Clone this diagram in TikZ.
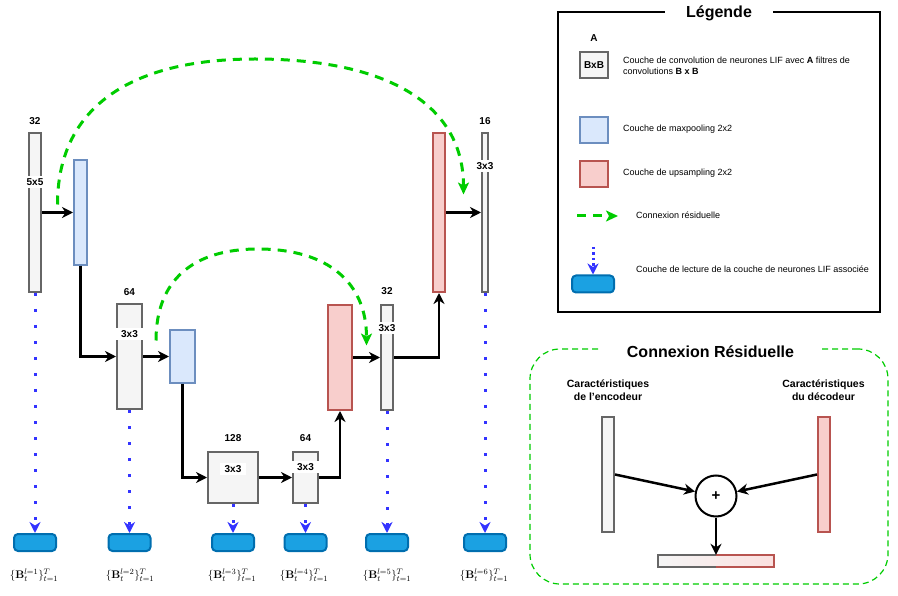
\documentclass[tikz,border=0pt]{standalone}
\usepackage[no-math]{fontspec}
\setmainfont{Liberation Sans}
\usetikzlibrary{arrows.meta,calc,shapes.geometric}
\definecolor{convfill}{HTML}{F5F5F5}
\definecolor{convdraw}{HTML}{666666}
\definecolor{poolfill}{HTML}{DAE8FC}
\definecolor{pooldraw}{HTML}{6C8EBF}
\definecolor{upfill}{HTML}{F8CECC}
\definecolor{uplight}{HTML}{FBE0DF}
\definecolor{updraw}{HTML}{B85450}
\definecolor{resgreen}{HTML}{00CC00}
\definecolor{dotblue}{HTML}{3333FF}
\definecolor{readfill}{HTML}{1BA1E2}
\definecolor{readdraw}{HTML}{006EAF}
\begin{document}
\begin{tikzpicture}[x=1pt,y=-1pt,
  conv/.style={rectangle, draw=convdraw, fill=convfill, line width=2pt, inner sep=0pt},
  pool/.style={rectangle, draw=pooldraw, fill=poolfill, line width=2pt, inner sep=0pt},
  upl/.style={rectangle, draw=updraw, fill=upfill, line width=2pt, inner sep=0pt},
  readout/.style={rectangle, rounded corners=4pt, draw=readdraw, fill=readfill, line width=2pt,
    minimum width=42pt, minimum height=17pt, inner sep=0pt},
  num/.style={font=\fontsize{10}{12}\selectfont\bfseries, inner sep=1pt},
  kern/.style={num, fill=white, inner xsep=5pt, inner ysep=2.5pt},
  arr/.style={line width=2.5pt, -{Stealth[length=11pt,width=11pt,inset=3.5pt]}},
  resarr/.style={resgreen, line width=3pt, dash pattern=on 9pt off 7pt,
    -{Stealth[length=12pt,width=11pt,inset=3pt]}},
  readarr/.style={dotblue, line width=3pt, dash pattern=on 3pt off 13pt,
    -{Stealth[length=11pt,width=11pt,inset=3.5pt]}},
  mathlbl/.style={font=\fontsize{11}{13}\selectfont, inner sep=0pt},
  legtxt/.style={font=\fontsize{9}{11}\selectfont, anchor=west, align=left, inner sep=0pt},
  bigttl/.style={font=\fontsize{16}{19}\selectfont\bfseries, fill=white, inner ysep=2pt},
  subttl/.style={font=\fontsize{10.5}{13}\selectfont\bfseries, align=center, inner sep=0pt}
]
\useasboundingbox (0,0) rectangle (898,596);

% ---------------- main network ----------------
\node[conv, minimum width=12pt, minimum height=159pt] (c1) at (35,212.5) {};
\node[pool, minimum width=13pt, minimum height=105pt] (p1) at (80.5,212.5) {};
\node[conv, minimum width=25pt, minimum height=105pt] (c2) at (129.5,356.5) {};
\node[pool, minimum width=25pt, minimum height=53pt] (p2) at (182.5,356.5) {};
\node[conv, minimum width=50pt, minimum height=51pt] (c3) at (233,477.5) {};
\node[conv, minimum width=25pt, minimum height=51pt] (c4) at (305.5,477.5) {};
\node[upl, minimum width=24pt, minimum height=105pt] (u1) at (340,357.5) {};
\node[conv, minimum width=12pt, minimum height=105pt] (c5) at (387,357.5) {};
\node[upl, minimum width=12pt, minimum height=159pt] (u2) at (439,212.5) {};
\node[conv, minimum width=6pt, minimum height=159pt] (c6) at (485,212.5) {};

% filter counts
\node[num] (n1) at (35,121) {32};
\node[num] (n2) at (129.5,292) {64};
\node[num] (n3) at (233,438) {128};
\node[num] (n4) at (305.5,438) {64};
\node[num] (n5) at (387,291) {32};
\node[num] (n6) at (485,121) {16};

% kernel sizes
\node[kern] (k1) at (35,182) {5x5};
\node[kern] (k2) at (129.5,334) {3x3};
\node[kern] (k3) at (233,469) {3x3};
\node[kern] (k4) at (305.5,467) {3x3};
\node[kern] (k5) at (387,328) {3x3};
\node[kern] (k6) at (485,166) {3x3};

% black connectors
\draw[arr] (c1) -- (p1);
\draw[arr] (p1.south) |- (c2.west);
\draw[arr] (c2) -- (p2);
\draw[arr] (p2.south) |- (c3.west);
\draw[arr] (c3) -- (c4);
\draw[arr] (c4.east) -| (u1.south);
\draw[arr] (u1) -- (c5);
\draw[arr] (c5.east) -| (u2.south);
\draw[arr] (u2) -- (c6);

% residual connections
\coordinate (g1s) at ($(c1.east)!0.5!(p1.west)+(0,-8)$);
\coordinate (g1p) at (255,59);
\coordinate (g1e) at ($(u2.east)!0.5!(c6.west)+(0,-18)$);
\draw[resarr] (g1s) .. controls (57.5,110) and (127,59) .. (g1p)
  .. controls (390,59) and (463.5,106) .. (g1e);
\coordinate (g2s) at ($(c2.east)!0.5!(p2.west)+(0,-16)$);
\coordinate (g2p) at (258,249);
\coordinate (g2e) at ($(u1.east)!0.5!(c5.west)+(0,-12)$);
\draw[resarr] (g2s) .. controls (156,281) and (192,249) .. (g2p)
  .. controls (328.5,249) and (366.5,283) .. (g2e);

% readout layers
\node[readout] (r1) at (35,542.5) {};
\node[readout] (r2) at (129.5,542.5) {};
\node[readout] (r3) at (233,542.5) {};
\node[readout] (r4) at (305.5,542.5) {};
\node[readout] (r5) at (387,542.5) {};
\node[readout] (r6) at (485,542.5) {};
\draw[readarr] (c1.south) -- (r1.north);
\draw[readarr] (c2.south) -- (r2.north);
\draw[readarr] (c3.south) -- (r3.north);
\draw[readarr] (c4.south) -- (r4.north);
\draw[readarr] (c5.south) -- (r5.north);
\draw[readarr] (c6.south) -- (r6.north);

\node[mathlbl] (b1) at (34,575) {$\{\mathbf{B}_t^{l=1}\}_{t=1}^T$};
\node[mathlbl] (b2) at (130,575) {$\{\mathbf{B}_t^{l=2}\}_{t=1}^T$};
\node[mathlbl] (b3) at (232,575) {$\{\mathbf{B}_t^{l=3}\}_{t=1}^T$};
\node[mathlbl] (b4) at (304,575) {$\{\mathbf{B}_t^{l=4}\}_{t=1}^T$};
\node[mathlbl] (b5) at (387,575) {$\{\mathbf{B}_t^{l=5}\}_{t=1}^T$};
\node[mathlbl] (b6) at (484,575) {$\{\mathbf{B}_t^{l=6}\}_{t=1}^T$};

% ---------------- legend ----------------
\node[draw, line width=1.5pt, minimum width=322pt, minimum height=300pt, inner sep=0pt] (leg) at (719,162) {};
\node[bigttl, inner xsep=21pt] (legt) at (719,13) {Légende};

\node[num] (lA) at (594,38) {A};
\node[conv, line width=2.5pt, minimum width=28pt, minimum height=26pt, font=\fontsize{10}{12}\selectfont\bfseries] (lconv) at (594,65) {BxB};
\node[legtxt] (t1) at (623,65.5) {Couche de convolution de neurones LIF avec \textbf{A} filtres de\\convolutions \textbf{B x B}};
\node[pool, minimum width=28pt, minimum height=26pt] (lpool) at (594,130) {};
\node[legtxt] (t2) at (623,129) {Couche de maxpooling 2x2};
\node[upl, minimum width=28pt, minimum height=26pt] (lup) at (594,174) {};
\node[legtxt] (t3) at (623,173) {Couche de upsampling 2x2};
\coordinate (lg1) at (577,216);
\coordinate (lg2) at (618,216);
\draw[resarr] (lg1) -- (lg2);
\node[legtxt] (t4) at (636,215) {Connexion résiduelle};
\coordinate (ld) at (593,247);
\node[readout] (lread) at (593,284) {};
\draw[readarr, dash pattern=on 2.5pt off 3pt] (ld) -- (lread.north);
\node[legtxt] (t5) at (636,269) {Couche de lecture de la couche de neurones LIF associée};

% ---------------- residual connection detail ----------------
\node[draw=resgreen, line width=1.2pt, dash pattern=on 6pt off 4pt, rounded corners=30pt,
  minimum width=358pt, minimum height=235pt, inner sep=0pt] (res) at (709,466.5) {};
\node[bigttl, inner xsep=28pt] (rest) at (710.5,352) {Connexion Résiduelle};
\node[subttl] (encl) at (608,390) {Caractéristiques\\de l'encodeur};
\node[subttl] (decl) at (823.5,390) {Caractéristiques\\du décodeur};
\node[conv, minimum width=12pt, minimum height=115pt] (enc) at (608,474.5) {};
\node[upl, minimum width=12pt, minimum height=115pt] (dec) at (824,474.5) {};
\node[circle, draw, line width=2pt, minimum size=41pt, inner sep=0pt,
  font=\fontsize{15}{17}\selectfont\bfseries] (plus) at (716,496) {+};
\node[rectangle, minimum width=116pt, minimum height=12pt, inner sep=0pt,
  left color=convfill, middle color=upfill, right color=uplight] (bar) at (716,561) {};
\draw[convdraw, line width=2pt] (bar.north) -| (bar.south west) -- (bar.south);
\draw[updraw, line width=2pt] (bar.north) -| (bar.south east) -- (bar.south);
\draw[arr] (enc.east) -- (plus);
\draw[arr] (dec.west) -- (plus);
\draw[arr] (plus) -- (bar.north);
\end{tikzpicture}
\end{document}
